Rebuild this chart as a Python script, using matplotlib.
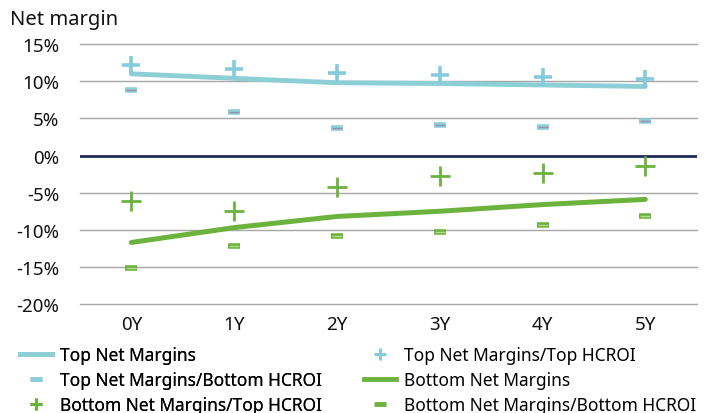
import matplotlib
matplotlib.use("Agg")
import matplotlib.pyplot as plt
from matplotlib.lines import Line2D

plt.rcParams["font.family"] = ["Noto Sans", "DejaVu Sans"]

years = ["0Y", "1Y", "2Y", "3Y", "4Y", "5Y"]
top_net = [11.0, 10.4, 9.8, 9.7, 9.5, 9.3]
top_top_hcroi = [12.2, 11.7, 11.1, 10.9, 10.6, 10.3]
top_bottom_hcroi = [8.8, 5.9, 3.7, 4.1, 3.8, 4.6]
bottom_net = [-11.7, -9.7, -8.2, -7.5, -6.6, -5.9]
bottom_top_hcroi = [-6.1, -7.5, -4.2, -2.8, -2.3, -1.4]
bottom_bottom_hcroi = [-15.1, -12.2, -10.8, -10.3, -9.3, -8.2]
y_ticks = [15, 10, 5, 0, -5, -10, -15, -20]

TEAL = "#8dcfd6"
TEAL_PLUS = "#86cbdb"
PURPLE = "#9a8db5"
GREEN = "#6cb33e"
GREEN_LIGHT = "#b5d98f"
NAVY = "#1f2c56"
GRID = "#a6a6a6"

fig = plt.figure(figsize=(7.08, 4.14), dpi=100)
ax = fig.add_axes([0.113, 0.263, 0.871, 0.628])
x = list(range(len(years)))

for t in y_ticks:
    if t != 0:
        ax.axhline(t, color=GRID, lw=1.0, zorder=1, clip_on=False)
ax.axhline(0, color=NAVY, lw=2.0, zorder=2)

ax.plot(x, top_net, color=TEAL, lw=3.5, solid_capstyle="round", zorder=3)
ax.plot(x, bottom_net, color=GREEN, lw=3.6, solid_capstyle="round", zorder=3)

ax.plot(x, top_top_hcroi, ls="none", marker="+", ms=13.5, mew=2.6, color=TEAL_PLUS, zorder=4)
ax.plot(x, bottom_top_hcroi, ls="none", marker="+", ms=14, mew=2.0, color=GREEN, zorder=4)

ax.plot(x, top_bottom_hcroi, ls="none", marker="_", ms=8.5, mew=4.0, color=TEAL, zorder=4)
ax.plot(x, top_bottom_hcroi, ls="none", marker="_", ms=6.5, mew=1.0, color=PURPLE, zorder=5)
ax.plot(x, bottom_bottom_hcroi, ls="none", marker="_", ms=8.5, mew=4.0, color=GREEN, zorder=4)
ax.plot(x, bottom_bottom_hcroi, ls="none", marker="_", ms=6.5, mew=1.0, color=GREEN_LIGHT, zorder=5)

ax.set_xlim(-0.5, 5.5)
ax.set_ylim(-20, 15)
ax.set_yticks(y_ticks)
ax.set_yticklabels([f"{t}%" for t in y_ticks])
ax.set_xticks(x)
ax.set_xticklabels(years)
for s in ax.spines.values():
    s.set_visible(False)
ax.tick_params(axis="both", length=0, labelsize=13.5, colors="#111111")
ax.tick_params(axis="y", pad=15)
ax.tick_params(axis="x", pad=8)

fig.text(0.014, 0.952, "Net margin", fontsize=14.5, va="center", ha="left", color="#111111")

left_handles = [
    Line2D([], [], color=TEAL, lw=3.5),
    Line2D([], [], ls="none", marker="_", ms=8, mew=3.5, color=TEAL),
    Line2D([], [], ls="none", marker="+", ms=9, mew=2.2, color=GREEN),
]
left_labels = [
    "Top Net Margins",
    "Top Net Margins/Bottom HCROI",
    "Bottom Net Margins/Top HCROI",
]
right_handles = [
    Line2D([], [], ls="none", marker="+", ms=9, mew=2.2, color=TEAL_PLUS),
    Line2D([], [], color=GREEN, lw=3.5),
    Line2D([], [], ls="none", marker="_", ms=8, mew=3.5, color=GREEN),
]
right_labels = [
    "Top Net Margins/Top HCROI",
    "Bottom Net Margins",
    "Bottom Net Margins/Bottom HCROI",
]
legend_kw = dict(loc="upper left", frameon=False, fontsize=12.5, handlelength=1.85,
                 handletextpad=0.45, labelspacing=0.4, borderaxespad=0, borderpad=0)
leg1 = fig.legend(left_handles, left_labels, bbox_to_anchor=(0.028, 0.162), **legend_kw)
fig.add_artist(leg1)
fig.legend(right_handles, right_labels, bbox_to_anchor=(0.514, 0.162), **legend_kw)

fig.savefig("out.png", dpi=100)
